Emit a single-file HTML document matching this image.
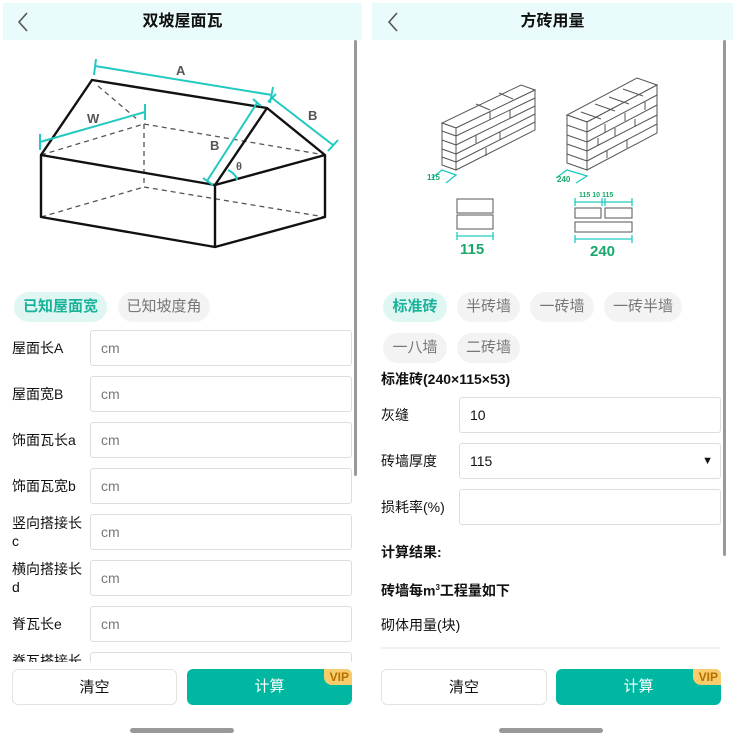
<!DOCTYPE html>
<html><head><meta charset="utf-8"><style>
*{margin:0;padding:0;box-sizing:border-box}
body{width:733px;height:741px;background:#fff;font-family:"Liberation Sans","Noto Sans CJK SC",sans-serif;position:relative;overflow:hidden;color:#111}
.a{position:absolute}
.hdr{background:#e9fbfa;height:37px;top:3px}
.title{font-size:16px;font-weight:bold;text-align:center;line-height:37px}
.tab{position:absolute;height:30px;border-radius:15px;background:#f3f3f3;color:#777;font-size:15px;text-align:center;line-height:30px}
.tab.on{background:#e0f6f3;color:#19b39b;font-weight:bold}
.inp{position:absolute;border:1px solid #ddd;border-radius:3px;height:36px;font-size:14px;color:#777;line-height:34px;padding-left:10px}
.lbl{position:absolute;font-size:14px;line-height:18px}
.btn{position:absolute;height:36px;border-radius:6px;font-size:15px;text-align:center;line-height:36px}
.clear{border:1px solid #e3e3e3;background:#fff}
.calc{background:#00b8a2;color:#fff;overflow:hidden}
.vip{position:absolute;right:0;top:0;background:#f8cc6a;color:#b56e00;font-size:12px;font-weight:bold;line-height:14px;padding:1px 3px 1px 6px;border-bottom-left-radius:8px}
.sb{position:absolute;width:3px;background:#999;border-radius:2px}
.home{position:absolute;width:104px;height:5px;border-radius:3px;background:#999;top:728px}
</style></head><body>
<!-- LEFT -->
<div class="a hdr" style="left:3px;width:359px"></div>
<svg class="a" style="left:17px;top:12px" width="12" height="20"><polyline points="10,1 2,10 10,19" stroke="#555" stroke-width="1.6" fill="none"/></svg>
<div class="a title" style="left:3px;width:359px;top:3px">双坡屋面瓦</div>
<div class="sb" style="left:354px;top:40px;height:436px"></div>
<svg class="a" style="left:0;top:40px" width="350" height="230" viewBox="0 40 350 230">
<g stroke="#555" stroke-width="1.3" stroke-dasharray="5,4" fill="none">
<line x1="144" y1="124" x2="325" y2="155"/><line x1="144" y1="124" x2="144" y2="187"/>
<line x1="41" y1="217" x2="144" y2="187"/><line x1="144" y1="187" x2="325" y2="217"/>
<line x1="41" y1="155" x2="144" y2="124"/><line x1="98" y1="86" x2="138" y2="120"/>
</g>
<g stroke="#111" stroke-width="2.4" fill="none" stroke-linejoin="round">
<polygon points="41,155 215,185 215,247 41,217"/>
<polyline points="41,155 92,80 267,108 325,155 325,217 215,247"/>
<line x1="215" y1="185" x2="267" y2="108"/><line x1="215" y1="185" x2="325" y2="155"/>
</g>
<g stroke="#22c9c0" stroke-width="2" fill="none">
<line x1="95" y1="66" x2="272" y2="95"/><line x1="96" y1="59" x2="94" y2="75"/><line x1="273" y1="87" x2="270" y2="103"/>
<line x1="40" y1="142" x2="145" y2="112"/><line x1="40" y1="134" x2="40" y2="150"/><line x1="145" y1="104" x2="145" y2="120"/>
<line x1="272" y1="98" x2="333" y2="145"/><line x1="276" y1="94" x2="268" y2="102"/><line x1="338" y1="140" x2="328" y2="151"/>
<line x1="257" y1="103" x2="207" y2="181"/><line x1="253" y1="99" x2="261" y2="106"/><line x1="203" y1="178" x2="213" y2="185"/>
<path d="M228,170 Q236,174 237,180"/>
</g>
<g fill="#555" font-weight="bold" font-size="13" font-family="Liberation Sans">
<text x="176" y="75">A</text><text x="87" y="123">W</text><text x="308" y="120">B</text><text x="210" y="150">B</text><text x="236" y="170" font-size="11">θ</text>
</g>
</svg>
<div class="tab on" style="left:14px;top:292px;width:93px">已知屋面宽</div>
<div class="tab" style="left:118px;top:292px;width:92px">已知坡度角</div>
<div class="lbl" style="left:12px;top:339px">屋面长A</div><div class="inp" style="left:90px;top:330px;width:262px">cm</div>
<div class="lbl" style="left:12px;top:385px">屋面宽B</div><div class="inp" style="left:90px;top:376px;width:262px">cm</div>
<div class="lbl" style="left:12px;top:431px">饰面瓦长a</div><div class="inp" style="left:90px;top:422px;width:262px">cm</div>
<div class="lbl" style="left:12px;top:477px">饰面瓦宽b</div><div class="inp" style="left:90px;top:468px;width:262px">cm</div>
<div class="lbl" style="left:12px;top:514px;width:74px">竖向搭接长 c</div><div class="inp" style="left:90px;top:514px;width:262px">cm</div>
<div class="lbl" style="left:12px;top:560px;width:74px">横向搭接长 d</div><div class="inp" style="left:90px;top:560px;width:262px">cm</div>
<div class="lbl" style="left:12px;top:615px">脊瓦长e</div><div class="inp" style="left:90px;top:606px;width:262px">cm</div>
<div class="a" style="left:0;top:652px;width:362px;height:10px;overflow:hidden">
<div class="lbl" style="left:12px;top:0">脊瓦搭接长</div><div class="inp" style="left:90px;top:0;width:262px"></div></div>
<div class="btn clear" style="left:12px;top:669px;width:165px">清空</div>
<div class="btn calc" style="left:187px;top:669px;width:165px">计算<span class="vip">VIP</span></div>
<div class="home" style="left:130px"></div>

<!-- RIGHT -->
<div class="a hdr" style="left:372px;width:361px"></div>
<svg class="a" style="left:387px;top:12px" width="12" height="20"><polyline points="10,1 2,10 10,19" stroke="#555" stroke-width="1.6" fill="none"/></svg>
<div class="a title" style="left:372px;width:361px;top:3px">方砖用量</div>
<div class="sb" style="left:723px;top:40px;height:516px"></div>
<svg class="a" style="left:420px;top:75px" width="260" height="190" viewBox="420 75 260 190">
<g stroke="#555" stroke-width="1" fill="#fff">
<polygon points="442,123 456,128 535,90 521,85"/>
<polygon points="456,128 535,90 535,130 456,170"/>
<polygon points="442,123 456,128 456,170 442,165"/>
<g fill="none">
<line x1="442" y1="131" x2="456" y2="136"/><line x1="442" y1="140" x2="456" y2="145"/><line x1="442" y1="149" x2="456" y2="154"/><line x1="442" y1="157" x2="456" y2="162"/>
<line x1="456" y1="136" x2="535" y2="98"/><line x1="456" y1="145" x2="535" y2="106"/><line x1="456" y1="154" x2="535" y2="114"/><line x1="456" y1="162" x2="535" y2="122"/>
<line x1="476" y1="104" x2="490" y2="110"/><line x1="499" y1="93" x2="513" y2="99"/>
<line x1="490" y1="112" x2="490" y2="120"/><line x1="510" y1="110" x2="510" y2="118"/><line x1="476" y1="135" x2="476" y2="143"/><line x1="500" y1="132" x2="500" y2="140"/><line x1="486" y1="148" x2="486" y2="156"/>
</g>
<polygon points="567,115 587,122 657,85 637,78"/>
<polygon points="587,122 657,85 657,133 587,170"/>
<polygon points="567,115 587,122 587,170 567,163"/>
<g fill="none">
<line x1="567" y1="125" x2="587" y2="132"/><line x1="567" y1="135" x2="587" y2="142"/><line x1="567" y1="144" x2="587" y2="151"/><line x1="567" y1="154" x2="587" y2="161"/>
<line x1="587" y1="132" x2="657" y2="95"/><line x1="587" y1="142" x2="657" y2="105"/><line x1="587" y1="151" x2="657" y2="115"/><line x1="587" y1="161" x2="657" y2="124"/>
<line x1="581" y1="112" x2="601" y2="119"/><line x1="595" y1="104" x2="615" y2="111"/><line x1="609" y1="97" x2="629" y2="104"/><line x1="623" y1="89" x2="643" y2="96"/>
<line x1="605" y1="124" x2="605" y2="132"/><line x1="625" y1="113" x2="625" y2="121"/><line x1="645" y1="102" x2="645" y2="110"/>
<line x1="598" y1="138" x2="598" y2="146"/><line x1="615" y1="128" x2="615" y2="136"/><line x1="635" y1="119" x2="635" y2="127"/>
<line x1="607" y1="150" x2="607" y2="158"/><line x1="627" y1="140" x2="627" y2="148"/>
</g>
<rect x="457" y="199" width="36" height="14"/><rect x="457" y="215" width="36" height="14"/>
<rect x="575" y="208" width="26" height="10"/><rect x="605" y="208" width="27" height="10"/><rect x="575" y="222" width="57" height="10"/>
</g>
<g stroke="#22c9c0" stroke-width="1.3" fill="none">
<polyline points="432,178 442,170 456,175 446,183"/>
<polyline points="556,178 567,170 587,176 576,183"/>
<line x1="457" y1="236" x2="493" y2="236"/><line x1="457" y1="232" x2="457" y2="240"/><line x1="493" y1="232" x2="493" y2="240"/>
<line x1="575" y1="202" x2="632" y2="202"/><line x1="575" y1="198" x2="575" y2="206"/><line x1="602" y1="198" x2="602" y2="206"/><line x1="605" y1="198" x2="605" y2="206"/><line x1="632" y1="198" x2="632" y2="206"/>
<line x1="575" y1="239" x2="632" y2="239"/><line x1="575" y1="235" x2="575" y2="243"/><line x1="632" y1="235" x2="632" y2="243"/>
</g>
<g fill="#19a86a" font-family="Liberation Sans" font-weight="bold">
<text x="427" y="180" font-size="8">115</text><text x="557" y="182" font-size="8">240</text>
<text x="460" y="254" font-size="15">115</text><text x="590" y="256" font-size="15">240</text>
<text x="579" y="197" font-size="7">115 10 115</text>
</g>
</svg>
<div class="tab on" style="left:383px;top:292px;width:64px">标准砖</div>
<div class="tab" style="left:457px;top:292px;width:63px">半砖墙</div>
<div class="tab" style="left:530px;top:292px;width:64px">一砖墙</div>
<div class="tab" style="left:604px;top:292px;width:78px">一砖半墙</div>
<div class="tab" style="left:383px;top:333px;width:64px">一八墙</div>
<div class="tab" style="left:457px;top:333px;width:63px">二砖墙</div>
<div class="lbl" style="left:381px;top:370px;font-weight:bold">标准砖(240×115×53)</div>
<div class="lbl" style="left:381px;top:406px">灰缝</div><div class="inp" style="left:459px;top:397px;width:262px;color:#111">10</div>
<div class="lbl" style="left:381px;top:452px">砖墙厚度</div><div class="inp" style="left:459px;top:443px;width:262px;color:#111">115<span style="position:absolute;right:7px;font-size:11px">&#9660;</span></div>
<div class="lbl" style="left:381px;top:498px">损耗率(%)</div><div class="inp" style="left:459px;top:489px;width:262px"></div>
<div class="lbl" style="left:381px;top:543px;font-weight:bold">计算结果:</div>
<div class="lbl" style="left:381px;top:579px;font-weight:bold">砖墙每m<sup style="font-size:8px">3</sup>工程量如下</div>
<div class="lbl" style="left:381px;top:616px">砌体用量(块)</div>
<div class="a" style="left:381px;top:647px;width:340px;height:2px;background:#f2f2f2"></div>
<div class="btn clear" style="left:381px;top:669px;width:166px">清空</div>
<div class="btn calc" style="left:556px;top:669px;width:165px">计算<span class="vip">VIP</span></div>
<div class="home" style="left:499px"></div>
</body></html>
